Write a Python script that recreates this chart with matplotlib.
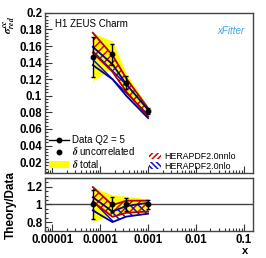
import matplotlib
matplotlib.use("Agg")
import matplotlib.pyplot as plt
import numpy as np
from matplotlib.patches import Patch
from matplotlib.lines import Line2D
from matplotlib.ticker import MultipleLocator, NullFormatter

plt.rcParams['font.family'] = ['Liberation Sans', 'DejaVu Sans']
plt.rcParams['font.weight'] = 'bold'
plt.rcParams['mathtext.fontset'] = 'stix'
plt.rcParams['hatch.linewidth'] = 1.1

# data (H1 ZEUS charm, Q2 = 5)
x = [0.00007, 0.00018, 0.00035, 0.001]
sigma = [0.147, 0.150, 0.116, 0.0815]
err_unc = [0.024, 0.0125, 0.008, 0.004]
err_tot = [0.029, 0.016, 0.011, 0.005]

# theory predictions
nnlo_c = [0.164, 0.139, 0.113, 0.080]
nnlo_e = [0.012, 0.010, 0.008, 0.005]
nlo_c = [0.148, 0.129, 0.107, 0.078]
nlo_e = [0.011, 0.009, 0.007, 0.005]

x = np.array(x)
sigma = np.array(sigma)
err_unc = np.array(err_unc)
err_tot = np.array(err_tot)
nnlo_c = np.array(nnlo_c); nnlo_e = np.array(nnlo_e)
nlo_c = np.array(nlo_c); nlo_e = np.array(nlo_e)

red = '#b00000'
red_h = '#e00000'
blue = '#00009a'
blue_h = '#1010d0'
fig = plt.figure(figsize=(2.66, 2.58), dpi=100)
ax = fig.add_axes([0.169, 0.329, 0.782, 0.621])
axr = fig.add_axes([0.169, 0.105, 0.782, 0.205])


def draw(a, dat, unc, tot, tc1, te1, tc2, te2):
    a.fill_between(x, dat - tot, dat + tot, color='#ffff00', lw=0, zorder=1)
    for c, e, col, hc, h in [(tc1, te1, red, red_h, '////'),
                             (tc2, te2, blue, blue_h, '\\\\\\\\')]:
        with plt.rc_context({'hatch.color': hc}):
            a.fill_between(x, c - e, c + e, facecolor='none', edgecolor=hc,
                           hatch=h, lw=0, zorder=2)
        a.plot(x, c - e, color=col, lw=1.3, zorder=3)
        a.plot(x, c + e, color=col, lw=1.3, zorder=3)
    a.errorbar(x, dat, yerr=unc, fmt='o', color='black', ms=3.2,
               elinewidth=1.0, capsize=1.2, zorder=5)


draw(ax, sigma, err_unc, err_tot, nnlo_c, nnlo_e, nlo_c, nlo_e)
ones = np.ones_like(sigma)
draw(axr, ones, err_unc / sigma, err_tot / sigma,
     nnlo_c / sigma, nnlo_e / sigma, nlo_c / sigma, nlo_e / sigma)
axr.axhline(1.0, color='#444444', lw=1.0, zorder=0)

for a in (ax, axr):
    a.set_xscale('log')
    a.set_xlim(7e-6, 0.155)
    a.tick_params(direction='in', which='both', top=False, right=False,
                  labelsize=8.3, width=0.8, color='#333333', pad=2)
    a.tick_params(which='major', length=5)
    a.tick_params(which='minor', length=2.5)
    for s in a.spines.values():
        s.set_color('#444444')
        s.set_linewidth(1.0)

ax.set_ylim(0.0067, 0.2)
ax.set_yticks([0.02, 0.04, 0.06, 0.08, 0.1, 0.12, 0.14, 0.16, 0.18, 0.2])
ax.set_yticklabels(['0.02', '0.04', '0.06', '0.08', '0.1', '0.12', '0.14',
                    '0.16', '0.18', '0.2'])
ax.yaxis.set_minor_locator(MultipleLocator(0.004))
ax.xaxis.set_major_formatter(NullFormatter())
ax.xaxis.set_minor_formatter(NullFormatter())

axr.set_ylim(0.7, 1.3)
axr.set_yticks([0.8, 1.0, 1.2])
axr.set_yticklabels(['0.8', '1', '1.2'])
axr.yaxis.set_minor_locator(MultipleLocator(0.05))
axr.set_xticks([1e-5, 1e-4, 1e-3, 1e-2, 1e-1])
axr.set_xticklabels(['0.00001', '0.0001', '0.001', '0.01', '0.1'])
axr.xaxis.set_minor_formatter(NullFormatter())

ax.text(0.05, 0.93, 'H1 ZEUS Charm', transform=ax.transAxes, fontsize=7,
        fontweight='normal', va='center', ha='left')
ax.text(0.96, 0.885, 'xFitter', transform=ax.transAxes, fontsize=7,
        style='italic', fontweight='normal', color='#3aa6e8',
        ha='right', va='center')

fig.text(0.035, 0.905, r'$\sigma^{cc}_{red}$', rotation=90, fontsize=8,
         ha='center', va='center')
fig.text(0.04, 0.205, 'Theory/Data', rotation=90, fontsize=8.5,
         ha='center', va='center')
fig.text(0.922, 0.028, 'x', fontsize=8, ha='center', va='center')

h1 = [Line2D([], [], color='black', marker='o', ms=3.2, lw=1.0),
      Line2D([], [], color='black', marker='o', ms=3.2, lw=0),
      Patch(facecolor='#ffff00', edgecolor='none')]
l1 = ax.legend(h1, ['Data Q2 = 5', r'$\delta$ uncorrelated', r'$\delta$ total'],
               loc='lower left', bbox_to_anchor=(0.02, 0.02), frameon=False,
               fontsize=7, handlelength=2.0, handletextpad=0.4,
               labelspacing=0.05, borderaxespad=0, borderpad=0)
for t in l1.get_texts():
    t.set_fontweight('normal')
ax.add_artist(l1)
h2 = [Patch(facecolor='none', edgecolor=red_h, hatch='//////', lw=0),
      Patch(facecolor='none', edgecolor=blue_h, hatch='\\\\\\\\\\\\', lw=0)]
l2 = ax.legend(h2, ['HERAPDF2.0nnlo', 'HERAPDF2.0nlo'], loc='lower left',
               bbox_to_anchor=(0.5, 0.015), frameon=False, fontsize=6.4,
               handlelength=1.4, handletextpad=0.3, labelspacing=0.1,
               borderaxespad=0, borderpad=0)
for t in l2.get_texts():
    t.set_fontweight('normal')

fig.savefig('out.png', dpi=100)
